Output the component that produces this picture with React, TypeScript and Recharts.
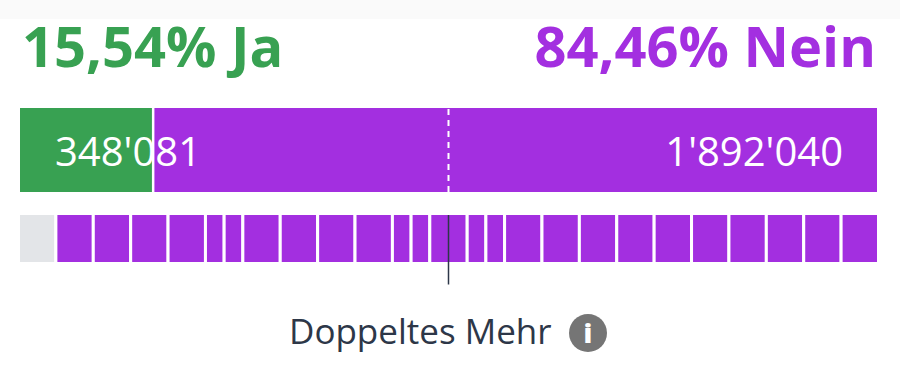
import { BarChart, Bar, XAxis, YAxis, ReferenceLine, LabelList, Cell } from "recharts";

const voteLabels = ["Ja", "Nein"];
const votePercents = ["15,54%", "84,46%"];
const voteCounts = [348081, 1892040];
const voteCountLabels = ["348'081", "1'892'040"];
const cantonWeights = [1, 1, 1, 1, 1, 0.5, 0.5, 1, 1, 1, 1, 0.5, 0.5, 1, 0.5, 0.5, 1, 1, 1, 1, 1, 1, 1, 1, 1, 1];
const cantonYes = [true, ...cantonWeights.slice(1).map(() => false)];

const GREEN = "#38a152";
const PURPLE = "#a32fe0";
const GREY = "#e3e5e8";
const INK = "#2d3748";

const totalVotes = voteCounts[0] + voteCounts[1];
const totalCantons = cantonWeights.reduce((a, b) => a + b, 0);

const voteRow = [{ name: "Volk", ja: voteCounts[0], nein: voteCounts[1] }];
const cantonRow = [
  Object.fromEntries([["name", "Stände"], ...cantonWeights.map((w, i) => [`c${i}`, w])]),
];

const heading = { position: "absolute", top: 10, fontSize: 56, fontWeight: 700, lineHeight: "70px" } as const;
const voteMargin = { top: 0, right: 23, bottom: 0, left: 20 };

export default function App() {
  return (
    <div
      style={{
        position: "absolute",
        left: 0,
        top: 0,
        width: 900,
        height: 383,
        background: "#fff",
        fontFamily: "'Open Sans', sans-serif",
        overflow: "hidden",
      }}
    >
      <div style={{ position: "absolute", left: 0, top: 0, width: 900, height: 19, background: "#fafafa" }} />
      <div style={{ ...heading, left: 22, color: GREEN }}>
        {votePercents[0]} {voteLabels[0]}
      </div>
      <div style={{ ...heading, right: 24, color: PURPLE }}>
        {votePercents[1]} {voteLabels[1]}
      </div>

      <div style={{ position: "absolute", left: 0, top: 108 }}>
        <BarChart width={900} height={84} data={voteRow} layout="vertical" margin={voteMargin} barCategoryGap={0}>
          <XAxis type="number" domain={[0, totalVotes]} hide />
          <YAxis type="category" dataKey="name" hide />
          <Bar dataKey="ja" stackId="v" fill={GREEN} isAnimationActive={false} />
          <Bar dataKey="nein" stackId="v" fill={PURPLE} isAnimationActive={false}>
            <LabelList
              position="insideRight"
              offset={34}
              dy={2}
              fill="#fff"
              fontSize={40}
              formatter={() => voteCountLabels[1]}
            />
          </Bar>
          <ReferenceLine x={voteCounts[0]} stroke="#fff" strokeWidth={2.5} />
          <ReferenceLine x={totalVotes / 2} stroke="#fff" strokeWidth={2} strokeDasharray="6 5" />
        </BarChart>
      </div>

      {/* second layer: the Ja count runs across the split, so it has to sit above the purple bar */}
      <div style={{ position: "absolute", left: 0, top: 108 }}>
        <BarChart width={900} height={84} data={voteRow} layout="vertical" margin={voteMargin} barCategoryGap={0}>
          <XAxis type="number" domain={[0, totalVotes]} hide />
          <YAxis type="category" dataKey="name" hide />
          <Bar dataKey="ja" fill="none" isAnimationActive={false}>
            <LabelList
              position="insideLeft"
              offset={35}
              dy={2}
              fill="#fff"
              fontSize={40}
              formatter={() => voteCountLabels[0]}
            />
          </Bar>
        </BarChart>
      </div>

      <div style={{ position: "absolute", left: 0, top: 213 }}>
        <BarChart
          width={900}
          height={72}
          data={cantonRow}
          layout="vertical"
          margin={{ top: 0.5, right: 21.5, bottom: 21.5, left: 18.5 }}
          barCategoryGap={0}
        >
          <XAxis type="number" domain={[0, totalCantons]} hide />
          <YAxis type="category" dataKey="name" hide />
          {cantonWeights.map((_, i) => (
            <Bar key={i} dataKey={`c${i}`} stackId="c" stroke="#fff" strokeWidth={3} isAnimationActive={false}>
              <Cell fill={cantonYes[i] ? GREY : PURPLE} />
            </Bar>
          ))}
          <ReferenceLine
            x={totalCantons / 2}
            shape={(p: any) => (
              <line
                x1={p.x1}
                x2={p.x2}
                y1={Math.min(p.y1, p.y2) + 1.5}
                y2={Math.max(p.y1, p.y2) + 21}
                stroke={INK}
                strokeWidth={1.5}
              />
            )}
          />
        </BarChart>
      </div>

      <div
        style={{
          position: "absolute",
          left: 289,
          top: 309,
          fontSize: 35,
          lineHeight: "44px",
          color: INK,
          whiteSpace: "nowrap",
        }}
      >
        Doppeltes Mehr
      </div>
      <div
        style={{
          position: "absolute",
          left: 569,
          top: 314,
          width: 38,
          height: 38,
          borderRadius: 19,
          background: "#757575",
          color: "#fff",
          fontSize: 27,
          fontWeight: 800,
          lineHeight: "38px",
          textAlign: "center",
        }}
      >
        i
      </div>
    </div>
  );
}
